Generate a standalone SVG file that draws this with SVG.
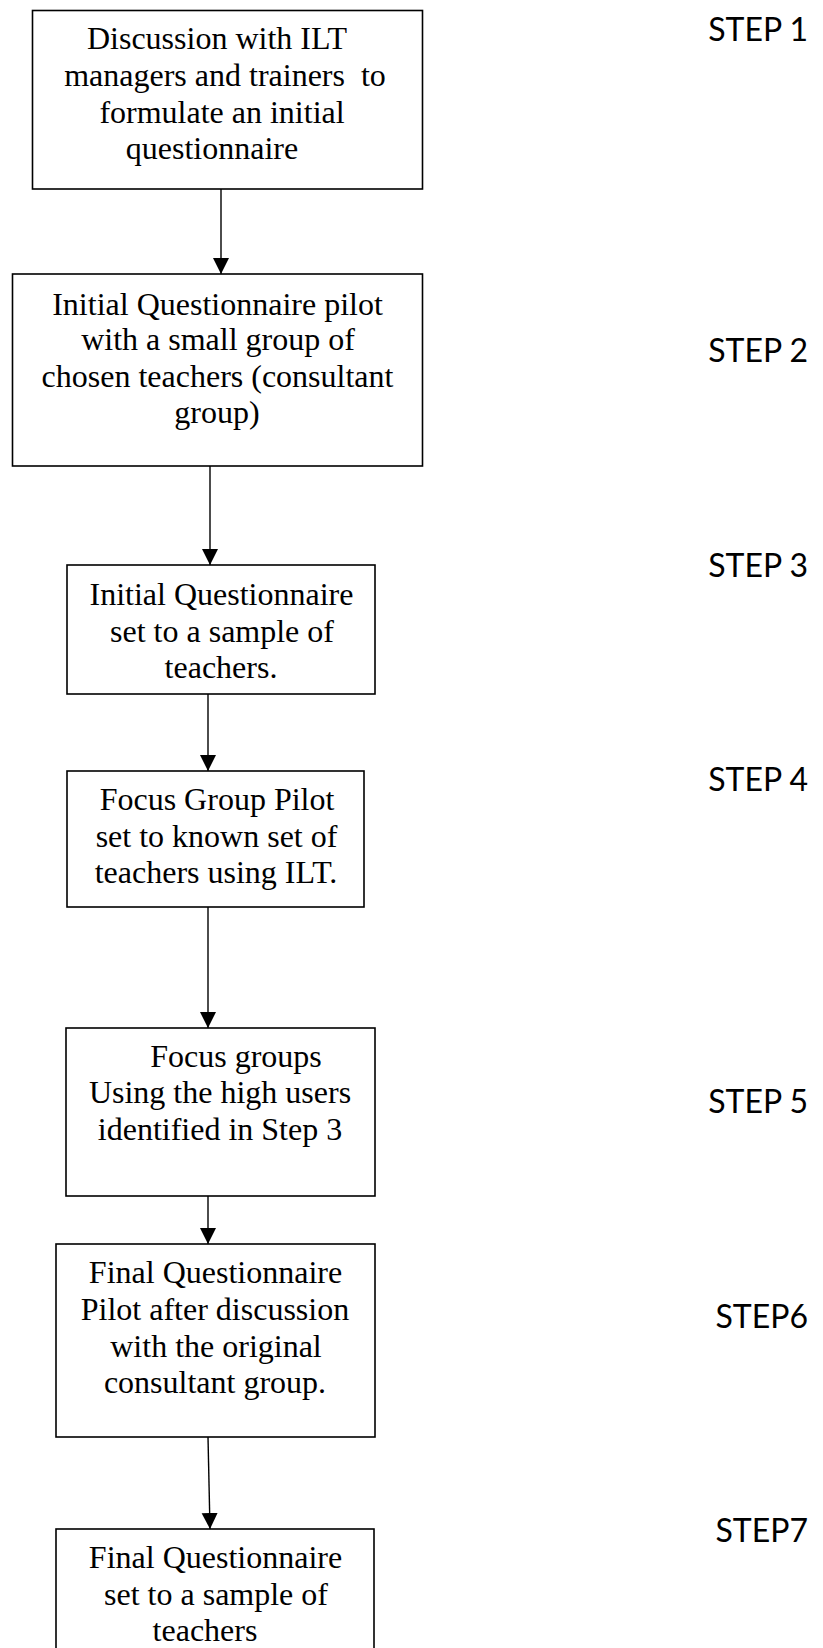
<svg xmlns="http://www.w3.org/2000/svg" width="823" height="1648" viewBox="0 0 823 1648">
  <style>
    .box { fill: #ffffff; stroke: #000000; stroke-width: 1.6; }
    .t { font-family: "Liberation Serif", "Times New Roman", serif; font-size: 32px; fill: #000000; text-anchor: middle; }
    .step { font-family: Lato, "Open Sans", sans-serif; font-size: 32px; fill: #000000; text-anchor: end; }
    .conn { stroke: #000000; stroke-width: 1.4; fill: none; marker-end: url(#arrow); }
  </style>
  <defs>
    <marker id="arrow" markerUnits="userSpaceOnUse" markerWidth="16" markerHeight="18" viewBox="0 0 16 18" refX="16" refY="8" orient="auto">
      <path d="M0,0 L16,8 L0,16 Z" fill="#000000"/>
    </marker>
  </defs>
  <rect x="0" y="0" width="823" height="1648" fill="#ffffff"/>

  <g id="connectors">
    <line class="conn" x1="221" y1="189" x2="221" y2="274"/>
    <line class="conn" x1="210" y1="466" x2="210" y2="565"/>
    <line class="conn" x1="208" y1="694" x2="208" y2="771"/>
    <line class="conn" x1="208" y1="907" x2="208" y2="1028"/>
    <line class="conn" x1="208" y1="1196" x2="208" y2="1244"/>
    <line class="conn" x1="208" y1="1437" x2="210" y2="1529"/>
  </g>

  <g id="node1">
    <rect class="box" x="32.5" y="10.5" width="390" height="178.5"/>
    <text class="t" x="217" y="49">Discussion with ILT</text>
    <text class="t" x="225" y="86" xml:space="preserve">managers and trainers  to</text>
    <text class="t" x="222" y="123">formulate an initial</text>
    <text class="t" x="212" y="159">questionnaire</text>
  </g>

  <g id="node2">
    <rect class="box" x="12.5" y="274" width="410" height="192"/>
    <text class="t" x="217.5" y="315">Initial Questionnaire pilot</text>
    <text class="t" x="218" y="350">with a small group of</text>
    <text class="t" x="217.5" y="387">chosen teachers (consultant</text>
    <text class="t" x="217" y="423">group)</text>
  </g>

  <g id="node3">
    <rect class="box" x="67" y="565" width="308" height="129"/>
    <text class="t" x="221.5" y="605">Initial Questionnaire</text>
    <text class="t" x="222" y="642">set to a sample of</text>
    <text class="t" x="221" y="678">teachers.</text>
  </g>

  <g id="node4">
    <rect class="box" x="67" y="771" width="297" height="136"/>
    <text class="t" x="217" y="810">Focus Group Pilot</text>
    <text class="t" x="216.5" y="847">set to known set of</text>
    <text class="t" x="216" y="883">teachers using ILT.</text>
  </g>

  <g id="node5">
    <rect class="box" x="66" y="1028" width="309" height="168"/>
    <text class="t" x="236" y="1067">Focus groups</text>
    <text class="t" x="220" y="1103">Using the high users</text>
    <text class="t" x="220" y="1140">identified in Step 3</text>
  </g>

  <g id="node6">
    <rect class="box" x="56" y="1244" width="319" height="193"/>
    <text class="t" x="215.5" y="1283">Final Questionnaire</text>
    <text class="t" x="215" y="1320">Pilot after discussion</text>
    <text class="t" x="216" y="1357">with the original</text>
    <text class="t" x="215" y="1393">consultant group.</text>
  </g>

  <g id="node7">
    <rect class="box" x="56" y="1529" width="318" height="140"/>
    <text class="t" x="215.5" y="1568">Final Questionnaire</text>
    <text class="t" x="216" y="1605">set to a sample of</text>
    <text class="t" x="205" y="1641">teachers</text>
  </g>

  <g id="step-labels">
    <text class="step" x="808" y="41">STEP 1</text>
    <text class="step" x="808" y="362">STEP 2</text>
    <text class="step" x="808" y="577">STEP 3</text>
    <text class="step" x="808" y="791">STEP 4</text>
    <text class="step" x="808" y="1113">STEP 5</text>
    <text class="step" x="808" y="1328">STEP6</text>
    <text class="step" x="808" y="1542">STEP7</text>
  </g>
</svg>
